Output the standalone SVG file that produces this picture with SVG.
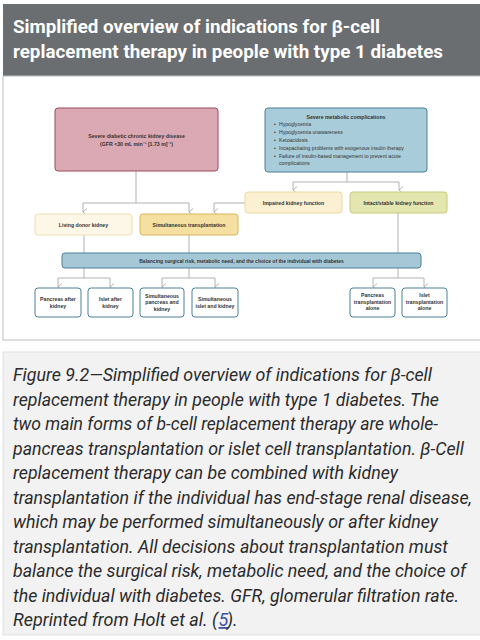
<svg xmlns="http://www.w3.org/2000/svg" width="480" height="640" viewBox="0 0 480 640">
<defs>
<style>
.hdr{font-family:Roboto,"Liberation Sans",sans-serif;font-weight:bold;font-size:19px;fill:#ffffff}
.cap{font-family:Roboto,"Liberation Sans",sans-serif;font-style:italic;font-size:18px;fill:#2b2b2b}
.lb{font-family:"Liberation Sans",Arial,sans-serif;font-weight:bold;font-size:5.2px;fill:#333333;text-anchor:middle}
.lr{font-family:"Liberation Sans",Arial,sans-serif;font-size:5.1px;fill:#333333}
.con{fill:none;stroke:#b3b3b3;stroke-width:1}
.leaf{fill:#ffffff;stroke:#4d8196;stroke-width:1}
</style>
<marker id="ah" viewBox="0 0 8 6" refX="4" refY="5" markerWidth="8" markerHeight="6" markerUnits="userSpaceOnUse" orient="auto-start-reverse">
<path d="M0.5,1 L4,5 L7.5,1" fill="none" stroke="#b3b3b3" stroke-width="1"/>
</marker>
</defs>
<rect width="480" height="640" fill="#ffffff"/>
<g id="header">
<rect x="3" y="4" width="477" height="72" fill="#6b6e71"/>
<text class="hdr" x="13" y="33" textLength="367" lengthAdjust="spacingAndGlyphs">Simplified overview of indications for β-cell</text>
<text class="hdr" x="13" y="58" textLength="430" lengthAdjust="spacingAndGlyphs">replacement therapy in people with type 1 diabetes</text>
</g>
<g id="panel">
<rect x="3" y="76" width="478" height="264" fill="#ffffff" stroke="#bdbdbd" stroke-width="1"/>
</g>
<g id="connectors">
<path class="con" d="M136,171 V203 M83,203 H189"/>
<path class="con" d="M83,203 V212" marker-end="url(#ah)"/>
<path class="con" d="M189,203 V212" marker-end="url(#ah)"/>
<path class="con" d="M347,172 V182 M293,182 H399"/>
<path class="con" d="M293,182 V190" marker-end="url(#ah)"/>
<path class="con" d="M399,182 V190" marker-end="url(#ah)"/>
<path class="con" d="M245,203 H214 V212" marker-end="url(#ah)"/>
<path class="con" d="M84,235 V278 M58,278 H110"/>
<path class="con" d="M58,278 V287" marker-end="url(#ah)"/>
<path class="con" d="M110,278 V287" marker-end="url(#ah)"/>
<path class="con" d="M189,235 V278 M162,278 H215"/>
<path class="con" d="M162,278 V287" marker-end="url(#ah)"/>
<path class="con" d="M215,278 V287" marker-end="url(#ah)"/>
<path class="con" d="M398,213 V278 M373,278 H424"/>
<path class="con" d="M373,278 V287" marker-end="url(#ah)"/>
<path class="con" d="M424,278 V287" marker-end="url(#ah)"/>
</g>
<g id="ckd">
<rect x="55" y="108" width="163" height="63" rx="3" fill="#dba9b4" stroke="#9b4b5d" stroke-width="1"/>
<text class="lb" x="136.5" y="137.5">Severe diabetic chronic kidney disease</text>
<text class="lb" x="136.5" y="145.5">(GFR &lt;30 mL min⁻¹ [1.73 m]⁻²)</text>
</g>
<g id="metabolic">
<rect x="265" y="108" width="162" height="64" rx="3" fill="#a8ccd9" stroke="#4d8196" stroke-width="1"/>
<text class="lb" x="346" y="119">Severe metabolic complications</text>
<g class="lr">
<text x="274" y="126">•</text><text x="279" y="126">Hypoglycemia</text>
<text x="274" y="134">•</text><text x="279" y="134">Hypoglycemia unawareness</text>
<text x="274" y="142">•</text><text x="279" y="142">Ketoacidosis</text>
<text x="274" y="150">•</text><text x="279" y="150">Incapacitating problems with exogenous insulin therapy</text>
<text x="274" y="158">•</text><text x="279" y="158">Failure of insulin-based management to prevent acute</text>
<text x="279" y="165">complications</text>
</g>
</g>
<g id="impaired">
<rect x="245" y="192" width="97" height="21" rx="3" fill="#fcf0d3" stroke="#ecd9a1" stroke-width="1"/>
<text class="lb" x="293.5" y="204.5">Impaired kidney function</text>
</g>
<g id="intact">
<rect x="350" y="192" width="97" height="21" rx="3" fill="#e4e6b0" stroke="#c6ca7c" stroke-width="1"/>
<text class="lb" x="398.5" y="204.5">Intact/stable kidney function</text>
</g>
<g id="living">
<rect x="35" y="214" width="97" height="21" rx="3" fill="#fdf7e7" stroke="#eedfb0" stroke-width="1"/>
<text class="lb" x="83.5" y="226.5">Living donor kidney</text>
</g>
<g id="simultaneous">
<rect x="140" y="214" width="98" height="21" rx="3" fill="#f5dfa1" stroke="#d8b65b" stroke-width="1"/>
<text class="lb" x="189" y="226.5">Simultaneous transplantation</text>
</g>
<g id="balance">
<rect x="62" y="253" width="359" height="15" rx="3" fill="#a6c8d6" stroke="#4d8196" stroke-width="1"/>
<text class="lb" x="241.5" y="262.5" style="font-size:5px">Balancing surgical risk, metabolic need, and the choice of the individual with diabetes</text>
</g>
<g id="pak">
<rect class="leaf" x="35" y="288" width="46" height="29" rx="3"/>
<text class="lb" x="58" y="300.5">Pancreas after</text>
<text class="lb" x="58" y="307.5">kidney</text>
</g>
<g id="iak">
<rect class="leaf" x="88" y="288" width="45" height="29" rx="3"/>
<text class="lb" x="110.5" y="300.5">Islet after</text>
<text class="lb" x="110.5" y="307.5">kidney</text>
</g>
<g id="spk">
<rect class="leaf" x="140" y="288" width="44" height="29" rx="3"/>
<text class="lb" x="162" y="297.5">Simultaneous</text>
<text class="lb" x="162" y="304">pancreas and</text>
<text class="lb" x="162" y="310.5">kidney</text>
</g>
<g id="sik">
<rect class="leaf" x="192" y="288" width="46" height="29" rx="3"/>
<text class="lb" x="215" y="300.5">Simultaneous</text>
<text class="lb" x="215" y="307.5">islet and kidney</text>
</g>
<g id="pta">
<rect class="leaf" x="350" y="288" width="45" height="29" rx="3"/>
<text class="lb" x="372.5" y="297">Pancreas</text>
<text class="lb" x="372.5" y="303.5">transplantation</text>
<text class="lb" x="372.5" y="310">alone</text>
</g>
<g id="ita">
<rect class="leaf" x="402" y="288" width="45" height="29" rx="3"/>
<text class="lb" x="424.5" y="297">Islet</text>
<text class="lb" x="424.5" y="303.5">transplantation</text>
<text class="lb" x="424.5" y="310">alone</text>
</g>
<g id="caption">
<rect x="3" y="352" width="478" height="283" fill="#f2f2f2" stroke="#e0e0e0" stroke-width="1"/>
<text class="cap" x="13" y="381" textLength="419" lengthAdjust="spacingAndGlyphs">Figure 9.2—Simplified overview of indications for β-cell</text>
<text class="cap" x="13" y="405.5" textLength="426" lengthAdjust="spacingAndGlyphs">replacement therapy in people with type 1 diabetes. The</text>
<text class="cap" x="13" y="430" textLength="425" lengthAdjust="spacingAndGlyphs">two main forms of b-cell replacement therapy are whole-</text>
<text class="cap" x="13" y="454.5" textLength="451" lengthAdjust="spacingAndGlyphs">pancreas transplantation or islet cell transplantation. β-Cell</text>
<text class="cap" x="13" y="479" textLength="385" lengthAdjust="spacingAndGlyphs">replacement therapy can be combined with kidney</text>
<text class="cap" x="13" y="503.5" textLength="459" lengthAdjust="spacingAndGlyphs">transplantation if the individual has end-stage renal disease,</text>
<text class="cap" x="13" y="528" textLength="425" lengthAdjust="spacingAndGlyphs">which may be performed simultaneously or after kidney</text>
<text class="cap" x="13" y="552.5" textLength="435" lengthAdjust="spacingAndGlyphs">transplantation. All decisions about transplantation must</text>
<text class="cap" x="13" y="577" textLength="453" lengthAdjust="spacingAndGlyphs">balance the surgical risk, metabolic need, and the choice of</text>
<text class="cap" x="13" y="601.5" textLength="446" lengthAdjust="spacingAndGlyphs">the individual with diabetes. GFR, glomerular filtration rate.</text>
<text class="cap" x="13" y="626" textLength="205" lengthAdjust="spacingAndGlyphs">Reprinted from Holt et al. (</text>
<text class="cap" x="218.5" y="626" fill="#3b4fa6" text-decoration="underline" style="fill:#3b4fa6">5</text>
<text class="cap" x="227" y="626">).</text>
</g>
</svg>
